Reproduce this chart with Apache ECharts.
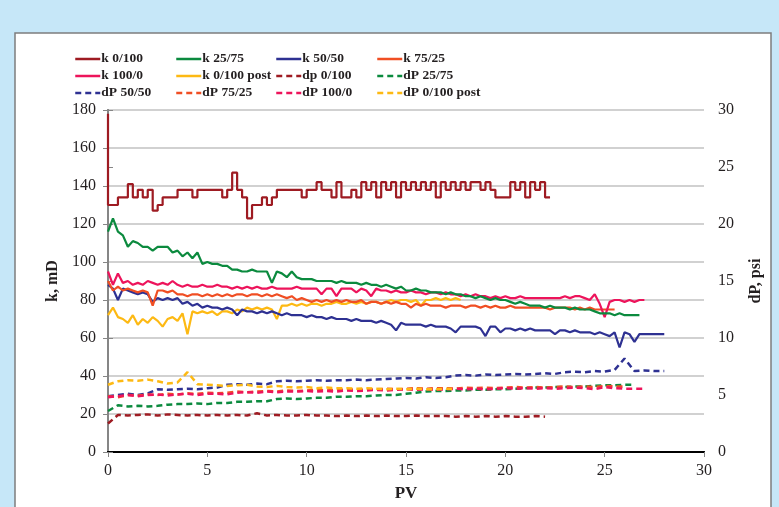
<!DOCTYPE html>
<html>
<head>
<meta charset="utf-8">
<title>k and dP vs PV</title>
<script src="https://cdn.jsdelivr.net/npm/echarts@6/dist/echarts.min.js"></script>
<style>
  html, body { margin: 0; padding: 0; background: #c6e7f8; }
  #chart { width: 779px; height: 507px; }
</style>
</head>
<body>
<div id="chart"></div>
<script>
// readings taken every 0.25 PV (k, mD) and every 0.5 PV (dP, psi)
const kStep = 0.25;
const dpStep = 0.5;

const k0_100 = [178, 130, 130, 134, 134, 141, 134, 138, 134, 138, 127, 130, 134, 134, 134, 138,
  138, 138, 134, 138, 138, 138, 138, 138, 134, 138, 147, 138, 134, 123, 130, 130,
  134, 130, 134, 138, 138, 138, 138, 138, 134, 138, 138, 142, 138, 138, 134, 142,
  134, 134, 138, 134, 142, 138, 142, 134, 142, 138, 142, 134, 142, 138, 142, 138,
  142, 138, 142, 134, 142, 138, 142, 138, 142, 138, 142, 142, 138, 142, 138, 134,
  134, 134, 142, 138, 142, 134, 142, 138, 142, 134];

const k25_75 = [116, 123, 116, 114, 108, 111, 110, 108, 108, 106, 108, 108, 108, 105, 106, 103,
  105, 102, 105, 99, 100, 99, 99, 98, 98, 96, 96, 95, 95, 96, 95, 95,
  95, 89, 95, 94, 92, 95, 92, 91, 91, 91, 90, 90, 90, 90, 89, 90,
  89, 89, 89, 88, 89, 88, 88, 87, 88, 87, 86, 87, 85, 85, 86, 85,
  85, 84, 84, 84, 83, 84, 83, 83, 82, 82, 81, 82, 81, 80, 81, 80,
  80, 79, 78, 79, 78, 77, 77, 77, 76, 77, 76, 76, 76, 75, 76, 75,
  75, 75, 74, 73, 73, 73, 72, 73, 72, 72, 72, 72];

const k50_50 = [88, 86, 80, 86, 85, 84, 83, 84, 83, 79, 81, 80, 81, 80, 81, 78,
  79, 77, 78, 76, 77, 76, 76, 75, 76, 75, 72, 75, 74, 74, 73, 74,
  73, 74, 73, 72, 73, 72, 72, 72, 71, 72, 71, 71, 70, 71, 70, 70,
  70, 69, 70, 69, 69, 69, 68, 69, 68, 67, 64, 68, 67, 67, 67, 67,
  66, 67, 66, 66, 66, 65, 63, 66, 66, 66, 66, 65, 61, 66, 66, 63,
  65, 65, 64, 65, 64, 65, 64, 64, 64, 64, 62, 64, 64, 63, 64, 63,
  63, 63, 62, 63, 62, 61, 63, 55, 63, 62, 58, 62, 62, 62, 62, 62, 62];

const k75_25 = [90, 85, 87, 85, 86, 85, 84, 85, 84, 77, 85, 85, 84, 85, 83, 83,
  82, 83, 83, 82, 83, 82, 83, 82, 83, 82, 83, 83, 82, 83, 83, 82,
  83, 82, 83, 82, 81, 82, 80, 81, 80, 79, 80, 79, 80, 79, 80, 79,
  80, 79, 79, 80, 78, 79, 79, 78, 79, 78, 79, 78, 78, 76, 78, 77,
  78, 77, 77, 77, 76, 77, 77, 77, 76, 77, 77, 76, 77, 76, 77, 76,
  76, 77, 76, 76, 76, 76, 76, 76, 76, 75, 76, 76, 76, 76, 75, 76,
  75, 76, 75, 75, 75, 75, 75];

const k100_0 = [95, 88, 94, 89, 90, 88, 89, 88, 90, 89, 88, 89, 88, 90, 88, 87,
  88, 87, 87, 88, 87, 87, 88, 87, 87, 86, 87, 86, 87, 86, 87, 86,
  86, 87, 86, 86, 86, 86, 87, 86, 86, 86, 86, 83, 86, 86, 82, 86,
  86, 86, 84, 86, 85, 82, 86, 85, 85, 84, 85, 84, 84, 85, 84, 84,
  83, 84, 84, 83, 84, 83, 83, 82, 83, 82, 83, 82, 82, 81, 82, 81,
  82, 81, 81, 82, 81, 81, 81, 81, 81, 81, 81, 81, 82, 81, 82, 82,
  81, 80, 83, 78, 71, 79, 80, 80, 79, 80, 79, 80, 80];

const k0_100post = [72, 76, 71, 70, 68, 72, 67, 70, 68, 71, 69, 66, 70, 71, 69, 73,
  62, 74, 73, 74, 73, 74, 72, 74, 74, 73, 75, 74, 76, 75, 76, 75,
  76, 75, 70, 77, 77, 78, 77, 78, 77, 78, 78, 77, 78, 78, 79, 78,
  78, 79, 78, 79, 78, 79, 79, 78, 79, 80, 79, 80, 80, 79, 80, 77,
  80, 80, 81, 80, 81, 80, 81, 80];

const dp0_100 = [2.5, 3.25, 3.2, 3.25, 3.3, 3.2, 3.3, 3.25, 3.2, 3.25, 3.2, 3.25, 3.2, 3.25, 3.2, 3.4,
  3.2, 3.25, 3.2, 3.2, 3.25, 3.2, 3.2, 3.15, 3.2, 3.15, 3.2, 3.15, 3.2, 3.15, 3.15, 3.2,
  3.15, 3.15, 3.15, 3.1, 3.15, 3.1, 3.15, 3.1, 3.15, 3.1, 3.1, 3.15, 3.1];

const dp25_75 = [3.6, 4.1, 4.0, 4.05, 4.0, 4.05, 4.15, 4.2, 4.2, 4.25, 4.2, 4.3, 4.3, 4.4, 4.4, 4.45,
  4.45, 4.65, 4.7, 4.65, 4.7, 4.75, 4.75, 4.85, 4.85, 4.9, 4.9, 4.95, 5.0, 5.0, 5.1, 5.2,
  5.3, 5.35, 5.35, 5.4, 5.4, 5.45, 5.45, 5.5, 5.5, 5.55, 5.6, 5.65, 5.65, 5.7, 5.7, 5.75,
  5.75, 5.8, 5.85, 5.85, 5.9, 5.9];

const dp50_50 = [4.9, 5.0, 5.1, 5.0, 5.15, 5.5, 5.45, 5.5, 5.55, 5.5, 5.6, 5.65, 5.9, 5.95, 5.9, 6.0,
  5.95, 6.2, 6.25, 6.2, 6.25, 6.3, 6.25, 6.3, 6.3, 6.35, 6.3, 6.35, 6.4, 6.45, 6.5, 6.45,
  6.55, 6.5, 6.55, 6.7, 6.75, 6.7, 6.8, 6.75, 6.8, 6.85, 6.8, 6.85, 6.9, 6.85, 7.0, 7.05,
  7.0, 7.1, 7.05, 7.2, 8.2, 7.1, 7.15, 7.1, 7.1];

const dp75_25 = [4.9, 4.8, 5.0, 4.95, 5.05, 5.0, 5.1, 5.05, 5.15, 5.1, 5.2, 5.15, 5.2, 5.3, 5.25, 5.3,
  5.35, 5.3, 5.4, 5.35, 5.4, 5.45, 5.4, 5.45, 5.45, 5.5, 5.45, 5.5, 5.55, 5.5, 5.55, 5.6,
  5.55, 5.6, 5.6, 5.55, 5.65, 5.6, 5.65, 5.6, 5.65, 5.7, 5.65, 5.7, 5.65, 5.7, 5.75, 5.7,
  5.75, 5.7, 5.8, 5.75, 5.75];

const dp100_0 = [4.8, 4.9, 5.0, 4.9, 5.0, 5.05, 4.95, 5.05, 5.1, 5.0, 5.1, 5.1, 5.05, 5.2, 5.25, 5.2,
  5.3, 5.25, 5.3, 5.3, 5.35, 5.3, 5.35, 5.3, 5.4, 5.35, 5.4, 5.45, 5.4, 5.45, 5.5, 5.45,
  5.5, 5.45, 5.5, 5.55, 5.5, 5.55, 5.5, 5.55, 5.6, 5.55, 5.6, 5.55, 5.6, 5.55, 5.6, 5.65,
  5.6, 5.5, 5.7, 5.6, 5.55, 5.55, 5.55];

const dp0_100post = [5.9, 6.2, 6.3, 6.25, 6.35, 6.2, 6.0, 6.1, 7.0, 5.95, 5.9, 5.85, 5.8, 5.85, 5.9, 5.75,
  5.7, 5.8, 5.7, 5.65, 5.7, 5.6, 5.65, 5.6, 5.6, 5.55, 5.6, 5.55, 5.5, 5.55, 5.5, 5.55,
  5.5, 5.5, 5.55, 5.5];

const pvTicks = [0, 5, 10, 15, 20, 25, 30];

const colors = {
  c0_100: "#9e1b22",
  c25_75: "#0b8a3e",
  c50_50: "#2e3192",
  c75_25: "#f04e23",
  c100_0: "#ed145b",
  cPost: "#fdb913",
};

const serif = "'Liberation Serif', 'Times New Roman', serif";
const toPairs = (vals, step) => vals.map((v, i) => [i * step, v]);

function kLine(name, vals, color, extra) {
  return Object.assign({
    name,
    type: "line",
    data: toPairs(vals, kStep),
    yAxisIndex: 0,
    symbol: "none",
    lineStyle: { color, width: 2.2 },
    itemStyle: { color },
  }, extra || {});
}

function dpLine(name, vals, color) {
  return {
    name,
    type: "line",
    data: toPairs(vals, dpStep),
    yAxisIndex: 1,
    symbol: "none",
    lineStyle: { color, width: 2.5, type: [6, 4] },
    itemStyle: { color },
  };
}

const chart = echarts.init(document.getElementById("chart"));

const legendBase = {
  orient: "vertical",
  top: 52,
  padding: 0,
  itemWidth: 25,
  itemHeight: 14,
  itemGap: 3,
  itemStyle: { opacity: 0 },
  lineStyle: { width: 2.5 },
  textStyle: { fontFamily: serif, fontWeight: "bold", fontSize: 13.5, color: "#231f20", padding: [0, 0, 0, -4] },
};

chart.setOption({
  animation: false,
  backgroundColor: "#c6e7f8",
  graphic: [
    {
      type: "rect",
      shape: { x: 15, y: 33, width: 756, height: 490 },
      style: { fill: "#ffffff", stroke: "#7d7d7d", lineWidth: 1.5 },
      z: -10,
    },
  ],
  legend: [
    Object.assign({ left: 74, data: ["k 0/100", "k 100/0", "dP 50/50"] }, legendBase),
    Object.assign({ left: 175, data: ["k 25/75", "k 0/100 post", "dP 75/25"] }, legendBase),
    Object.assign({ left: 275, data: ["k 50/50", "dp 0/100", "dP 100/0"] }, legendBase),
    Object.assign({ left: 376, data: ["k 75/25", "dP 25/75", "dP 0/100 post"] }, legendBase),
  ],
  grid: { left: 108, right: 75, top: 110, bottom: 55 },
  xAxis: [
    {
      type: "value",
      min: pvTicks[0],
      max: pvTicks[pvTicks.length - 1],
      interval: 5,
      name: "PV",
      nameLocation: "middle",
      nameGap: 33,
      nameTextStyle: { fontFamily: serif, fontWeight: "bold", fontSize: 17, color: "#231f20" },
      axisLine: { lineStyle: { color: "#000000", width: 2 } },
      axisTick: { lineStyle: { color: "#868686" }, length: 5 },
      axisLabel: { fontFamily: serif, fontSize: 16, color: "#231f20", margin: 11 },
      splitLine: { show: false },
    },
    {
      type: "value",
      position: "top",
      min: 0,
      max: 30,
      axisLine: { lineStyle: { color: "#000000", width: 2 } },
      axisTick: { show: false },
      axisLabel: { show: false },
      splitLine: { show: false },
    },
  ],
  yAxis: [
    {
      type: "value",
      min: 0,
      max: 180,
      interval: 20,
      name: "k, mD",
      nameLocation: "middle",
      nameGap: 44,
      nameTextStyle: { fontFamily: serif, fontWeight: "bold", fontSize: 16, color: "#231f20" },
      axisLine: { show: true, lineStyle: { color: "#868686", width: 2 } },
      axisTick: { show: true, lineStyle: { color: "#868686" }, length: 5 },
      axisLabel: { fontFamily: serif, fontSize: 16, color: "#231f20", margin: 12 },
      splitLine: { lineStyle: { color: "#c2c2c2", width: 1.5 } },
    },
    {
      type: "value",
      min: 0,
      max: 30,
      interval: 5,
      name: "dP, psi",
      nameLocation: "middle",
      nameGap: 44,
      nameRotate: 90,
      nameTextStyle: { fontFamily: serif, fontWeight: "bold", fontSize: 16, color: "#231f20" },
      axisLine: { show: true, lineStyle: { color: "#868686", width: 2 } },
      axisTick: { show: true, lineStyle: { color: "#868686" }, length: 5 },
      axisLabel: { fontFamily: serif, fontSize: 16, color: "#231f20", margin: 14 },
      splitLine: { show: false },
    },
  ],
  series: [
    dpLine("dp 0/100", dp0_100, colors.c0_100),
    dpLine("dP 25/75", dp25_75, colors.c25_75),
    dpLine("dP 50/50", dp50_50, colors.c50_50),
    dpLine("dP 75/25", dp75_25, colors.c75_25),
    dpLine("dP 100/0", dp100_0, colors.c100_0),
    dpLine("dP 0/100 post", dp0_100post, colors.cPost),
    kLine("k 0/100 post", k0_100post, colors.cPost),
    kLine("k 50/50", k50_50, colors.c50_50),
    kLine("k 75/25", k75_25, colors.c75_25),
    kLine("k 100/0", k100_0, colors.c100_0),
    kLine("k 25/75", k25_75, colors.c25_75),
    kLine("k 0/100", k0_100, colors.c0_100, { step: "start" }),
  ],
});
</script>
</body>
</html>
